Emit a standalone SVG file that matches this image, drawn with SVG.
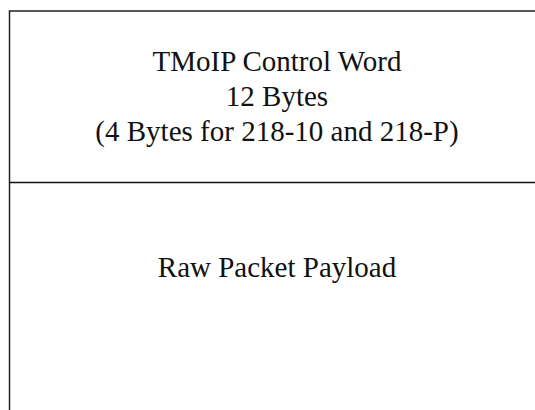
<svg xmlns="http://www.w3.org/2000/svg" width="535" height="410" viewBox="0 0 535 410">
<style>
.ln{stroke:#222;stroke-width:1.5;fill:none}
.t{font-family:"Liberation Serif","Times New Roman",serif;font-size:29px;fill:#111;text-anchor:middle}
</style>
<rect width="535" height="410" fill="#fff"/>
<g id="frame">
<path class="ln" d="M9.5,410 V11 H535"/>
</g>
<g id="control-word">
<text class="t" x="277" y="71">TMoIP Control Word</text>
<text class="t" x="277" y="106">12 Bytes</text>
<text class="t" x="277" y="141">(4 Bytes for 218-10 and 218-P)</text>
</g>
<g id="divider">
<line class="ln" x1="9.5" y1="182.5" x2="535" y2="182.5" style="stroke:#111"/>
</g>
<g id="payload">
<text class="t" x="277" y="277">Raw Packet Payload</text>
</g>
</svg>
